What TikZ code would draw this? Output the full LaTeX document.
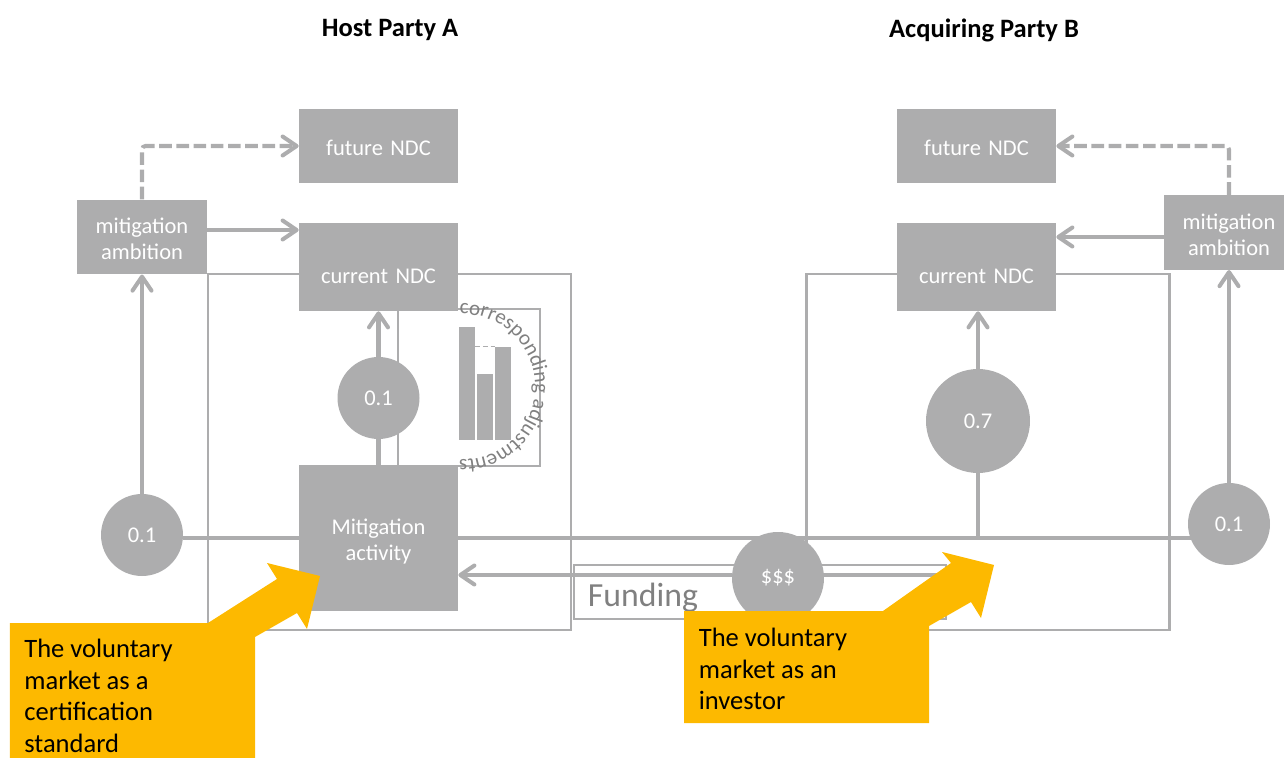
\documentclass[tikz,border=0pt]{standalone}
\usepackage{xcolor}
\usepackage{fontspec}
\setmainfont{Carlito}
\usetikzlibrary{arrows.meta,decorations.text}
\definecolor{boxGrey}{HTML}{ADADAE}
\definecolor{textGrey}{HTML}{808080}
\definecolor{marketOrange}{HTML}{FDB900}
\newcommand{\boxfont}{\fontsize{12.8}{14.8}\selectfont}
\newcommand{\calloutfont}{\fontsize{15.1}{17.9}\selectfont}
\tikzstyle{block} = [rectangle, fill=boxGrey, text=white, text width = 2.9cm, align = center, inner sep = 0pt, minimum width = 3.18cm, font = \boxfont, text depth = 0pt, text height = .4cm]
\tikzstyle{blockTwoLines} = [block, text height = 0pt, text depth = .13cm]
\tikzstyle{blockAmbition} = [blockTwoLines, minimum width = 2.6cm, text width = 2.5cm, minimum height = 1.49cm]
\tikzstyle{blockCircle} = [circle, fill=boxGrey, text=white, inner sep = 0pt, font = \boxfont]
\tikzstyle{blockFrame} = [rectangle, draw=boxGrey, line width = 1.7pt, minimum width = 7.26cm, minimum height = 7.12cm]
\tikzstyle{thinFrame} = [rectangle, draw=boxGrey, line width = .9pt, inner sep = 0pt]
\tikzstyle{bar} = [rectangle, fill=boxGrey, inner sep = 0pt, anchor = south west, minimum width = .31cm]
\tikzstyle{title} = [font = \fontsize{15.1}{18}\selectfont\bfseries, inner sep = 0pt]
\tikzstyle{callout} = [align = left, anchor = north west, inner sep = 0pt, text = black, font = \calloutfont]
\tikzstyle{plainline} = [draw=boxGrey, line width = 2.3pt]
\tikzstyle{line} = [plainline, -{Straight Barb[length=2.8mm, width=3.8mm, round]}]
\tikzstyle{dline} = [line, dash pattern = on 7.2pt off 2.6pt, rounded corners = 2pt]
\begin{document}
\begin{tikzpicture}
        \path[use as bounding box, clip] (0,0) rectangle (25.68,-15.16);
        \node(hostTitle) [title] at (7.8,-.6) {Host Party A};
        \node(acquiringTitle) [title, right of = hostTitle, node distance = 11.88 cm] {Acquiring Party B};
        % frames go first, everything else sits on them
        \node(frameA) [blockFrame] at (7.79,-9.04) {};
        \node(frameB) [blockFrame, right of = frameA, node distance = 11.96 cm] {};
        \node(fundingFrame) [thinFrame, minimum width = 7.44cm, minimum height = 1.08cm] at (15.2,-11.84) {};
        \node(fundingText) [text=textGrey, inner sep = 0pt, font = \fontsize{19.2}{22}\selectfont] at (12.86,-11.96) {Funding};
        \node(adjustFrame) [thinFrame, minimum width = 2.84cm, minimum height = 3.14cm] at (9.38,-7.75) {};
        \node(mitigA) [blockTwoLines, minimum height = 2.92cm] at (7.57,-10.76) {Mitigation\\activity};
        \node(currentA) [block, above of = mitigA, node distance = 5.42 cm, minimum height = 1.76cm, text height = .68cm] {current NDC};
        \node(futureA) [block, above of = currentA, node distance = 2.42 cm, minimum height = 1.48cm] {future NDC};
        \node(circleA) [blockCircle, minimum size = 1.64cm, above of = mitigA, node distance = 2.8 cm] {0.1};
        \node(ambitionA) [blockAmbition] at (2.84,-4.74) {mitigation\\ambition};
        \node(circleLeft) [blockCircle, minimum size = 1.64cm, below of = ambitionA, node distance = 5.96 cm] {0.1};
        \node(currentB) [block, right of = currentA, node distance = 11.96 cm, minimum height = 1.76cm, text height = .68cm] {current NDC};
        \node(futureB) [block, right of = futureA, node distance = 11.96 cm, minimum height = 1.48cm] {future NDC};
        \node(circleB) [blockCircle, minimum size = 2.08cm, below of = currentB, node distance = 3.08 cm, xshift = .03cm] {0.7};
        \node(ambitionB) [blockAmbition] at (24.58,-4.65) {mitigation\\ambition};
        \node(circleRight) [blockCircle, minimum size = 1.64cm, below of = ambitionB, node distance = 5.83 cm] {0.1};
        \node(circleFund) [blockCircle, minimum size = 1.84cm] at (15.56,-11.56) {\$\$\$};
        \coordinate(fundEnd) at (18.92,-11.5);
        % bars for the adjustment
        \node(barOne) [bar, minimum height = 2.26cm] at (9.18,-8.8) {};
        \node(barTwo) [bar, minimum height = 1.32cm] at (9.54,-8.8) {};
        \node(barThree) [bar, minimum height = 1.86cm] at (9.9,-8.8) {};
        \draw[boxGrey, line width = .7pt, dash pattern = on 3pt off 1.4pt] (barThree.north west -| barOne.east) -- (barThree.north west);
        \path[decorate, decoration = {text along path, text = {|\fontsize{12}{13}\selectfont\color{textGrey}|corresponding adjustments}}] (9.19,-6.28) arc[start angle = 92, end angle = -120, radius = 1.46];
        % connectors
        \draw[plainline] (circleLeft.east |- mitigA.west) -- (mitigA.west);
        \draw[plainline] (mitigA.east) -- (mitigA.east -| circleRight.center);
        \draw[plainline] (circleB.south) -- (circleB.south |- mitigA.east);
        \draw[plainline] (mitigA.north) -- (circleA.south);
        \draw[line] (circleA.north) -- (currentA.south);
        \draw[line] (circleB.north) -- (circleB.north |- currentB.south);
        \draw[line] (circleLeft.north) -- (ambitionA.south);
        \draw[line] (circleRight.north) -- (ambitionB.south);
        \draw[line] ([yshift = .14cm]ambitionA.east) -- ([yshift = .14cm]ambitionA.east -| currentA.west);
        \draw[line] ([yshift = -.09cm]ambitionB.west) -- ([yshift = -.09cm]ambitionB.west -| currentB.east);
        \draw[dline] (ambitionA.north) |- (futureA.west);
        \draw[dline] (ambitionB.north) |- (futureB.east);
        \draw[plainline] (fundEnd) -- (fundEnd -| circleFund.east);
        \draw[line] (fundEnd -| circleFund.west) -- (fundEnd -| mitigA.east);
        % orange callouts
        \fill[marketOrange] (.2,-12.46) -- (4.16,-12.46) -- (5.54,-11.58) -- (5.34,-11.26) -- (6.4,-11.52) -- (6.14,-12.58) -- (5.94,-12.26) -- (5.1,-12.74) -- (5.1,-15.16) -- (.2,-15.16) -- cycle;
        \fill[marketOrange] (13.68,-12.22) -- (17.66,-12.22) -- (19.02,-11.26) -- (18.84,-11.04) -- (19.88,-11.3) -- (19.62,-12.36) -- (19.42,-12.04) -- (18.58,-12.52) -- (18.58,-14.46) -- (13.68,-14.46) -- cycle;
        \node(calloutA) [callout] at (.48,-12.78) {The voluntary\\market as a\\certification\\standard};
        \node(calloutB) [callout] at (13.97,-12.56) {The voluntary\\market as an\\investor};
    \end{tikzpicture}
\end{document}
